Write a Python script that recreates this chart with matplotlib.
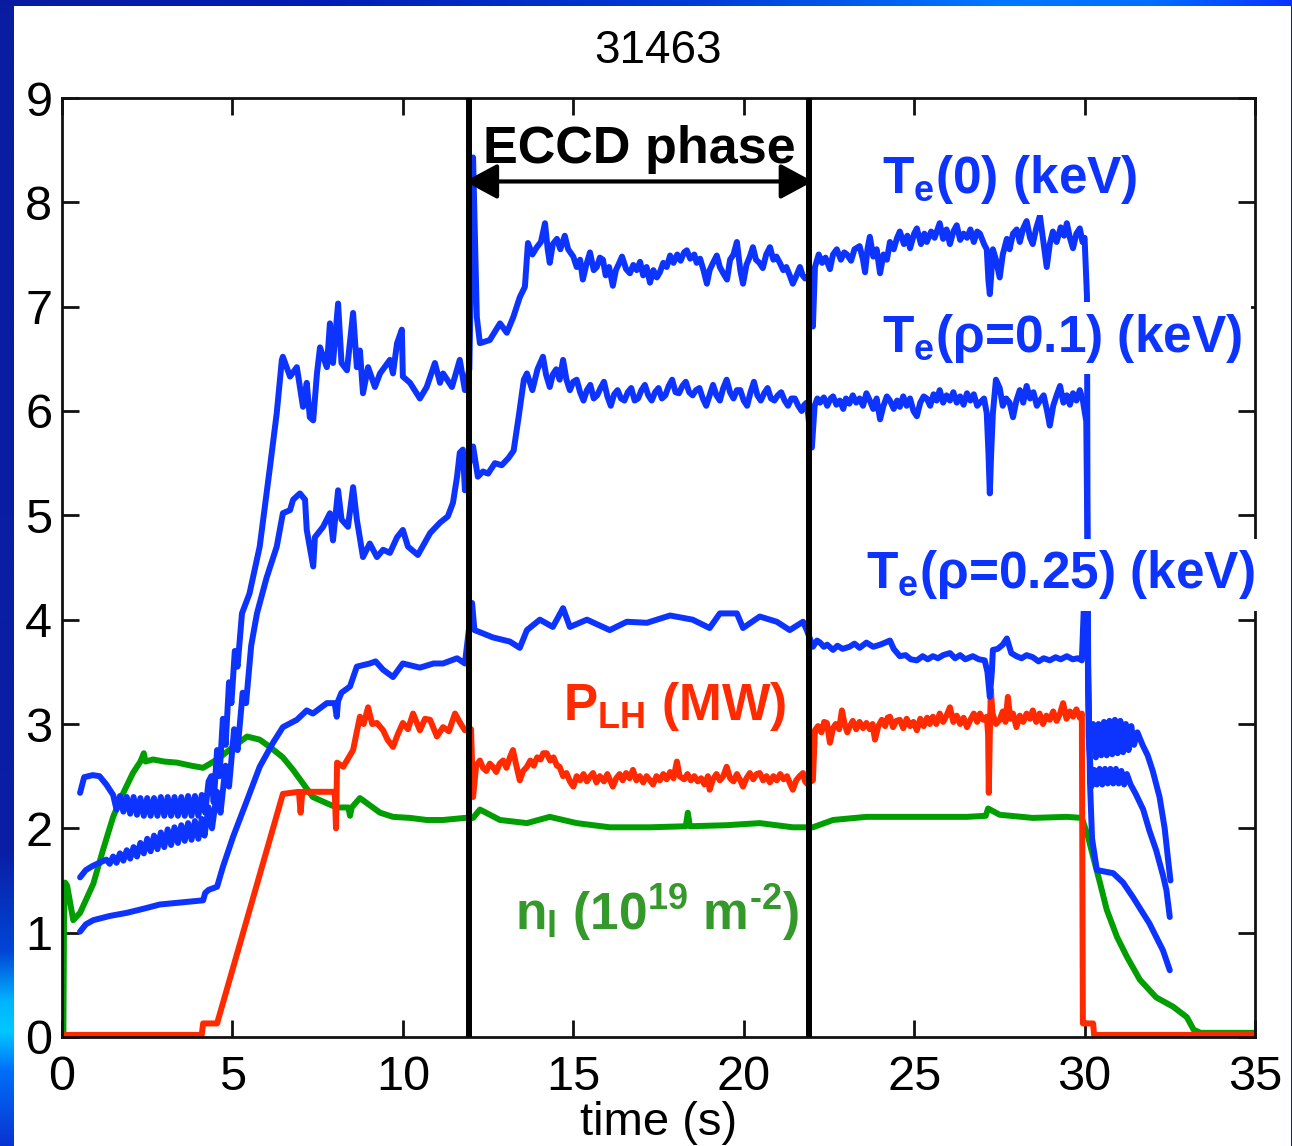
"""
Shot 31463: Te, P_LH and n_l time traces with the ECCD phase marked
"""

import numpy as np
import matplotlib.pyplot as plt

plt.rcParams['font.family'] = ['Liberation Sans', 'DejaVu Sans']
plt.rcParams['mathtext.fontset'] = 'custom'
plt.rcParams['mathtext.rm'] = 'Liberation Sans'
plt.rcParams['mathtext.bf'] = 'Liberation Sans:bold'
plt.rcParams['mathtext.it'] = 'Liberation Sans:italic'
plt.rcParams['mathtext.sf'] = 'Liberation Sans'

# ==================== data (time in s) ====================
shot = '31463'
eccd_start, eccd_end = 11.95, 21.92

te0 = [
    (0.53, 2.34), (0.65, 2.49), (0.9, 2.51), (1.1, 2.50), (1.3, 2.42), (1.5, 2.32),
    (1.6, 2.18), (1.7, 2.31), (1.8, 2.16), (1.9, 2.30), (2.0, 2.14), (2.1, 2.30),
    (2.2, 2.13), (2.3, 2.29), (2.4, 2.12), (2.5, 2.29), (2.6, 2.12), (2.7, 2.29),
    (2.8, 2.12), (2.9, 2.30), (3.0, 2.12), (3.1, 2.30), (3.2, 2.12), (3.3, 2.30),
    (3.4, 2.12), (3.5, 2.30), (3.6, 2.12), (3.7, 2.31), (3.8, 2.12), (3.9, 2.31),
    (4.0, 2.12), (4.1, 2.32), (4.2, 2.15),
    (4.3, 2.45), (4.38, 2.5), (4.45, 2.25), (4.55, 2.75), (4.62, 2.5), (4.72, 3.05),
    (4.8, 2.8), (4.9, 3.4), (4.97, 3.2), (5.07, 3.7), (5.15, 3.55), (5.28, 4.06),
    (5.5, 4.25), (5.8, 4.7), (6.1, 5.46), (6.3, 5.98), (6.45, 6.49),
    (6.48, 6.52), (6.69, 6.33), (6.89, 6.42), (6.98, 6.23), (7.07, 6.04), (7.18, 6.27),
    (7.27, 5.94), (7.37, 5.91), (7.48, 6.36), (7.57, 6.61), (7.66, 6.52), (7.77, 6.42),
    (7.86, 6.84), (7.95, 6.46), (8.1, 7.03), (8.2, 6.46), (8.36, 6.39), (8.54, 6.94),
    (8.65, 6.42), (8.74, 6.58), (8.83, 6.17), (8.98, 6.42), (9.18, 6.23), (9.33, 6.36),
    (9.62, 6.49), (9.71, 6.36), (9.83, 6.65), (9.97, 6.78), (10.0, 6.33), (10.21, 6.27),
    (10.5, 6.12), (10.7, 6.23), (10.94, 6.46), (11.09, 6.27), (11.18, 6.36), (11.44, 6.23),
    (11.67, 6.49), (11.82, 6.2), (11.95, 6.4),
    (12.06, 8.43), (12.17, 6.9), (12.26, 6.65), (12.55, 6.68), (12.85, 6.84), (13.05, 6.75),
    (13.24, 6.9), (13.43, 7.09), (13.58, 7.19), (13.67, 7.61), (13.8, 7.5), (13.93, 7.57),
    (14.05, 7.62), (14.17, 7.8), (14.25, 7.55), (14.31, 7.42), (14.4, 7.6), (14.52, 7.65),
    (14.62, 7.55), (14.75, 7.68), (14.85, 7.55), (15.0, 7.48), (15.1, 7.38), (15.2, 7.45),
    (15.28, 7.26), (15.38, 7.4), (15.49, 7.52), (15.6, 7.35), (15.69, 7.38), (15.78, 7.47),
    (15.87, 7.45), (15.95, 7.3), (16.05, 7.38), (16.16, 7.2), (16.25, 7.35), (16.35, 7.42),
    (16.43, 7.48), (16.55, 7.36), (16.66, 7.32), (16.76, 7.4), (16.86, 7.35), (16.96, 7.43),
    (17.05, 7.3), (17.15, 7.38), (17.25, 7.23), (17.35, 7.35), (17.45, 7.28), (17.54, 7.33),
    (17.64, 7.42), (17.74, 7.38), (17.84, 7.49), (17.94, 7.42), (18.05, 7.5), (18.15, 7.44),
    (18.25, 7.52), (18.33, 7.54), (18.43, 7.46), (18.55, 7.5), (18.62, 7.42), (18.72, 7.46),
    (18.82, 7.35), (18.92, 7.22), (19.0, 7.35), (19.1, 7.42), (19.21, 7.49), (19.3, 7.38),
    (19.4, 7.32), (19.51, 7.26), (19.6, 7.45), (19.7, 7.5), (19.8, 7.62), (19.9, 7.35),
    (19.98, 7.22), (20.08, 7.4), (20.18, 7.48), (20.27, 7.57), (20.36, 7.45), (20.46, 7.42),
    (20.56, 7.37), (20.66, 7.5), (20.77, 7.57), (20.87, 7.45), (20.96, 7.48), (21.06, 7.42),
    (21.16, 7.35), (21.25, 7.38), (21.35, 7.3), (21.44, 7.22), (21.55, 7.3), (21.65, 7.38),
    (21.73, 7.3), (21.8, 7.27), (21.92, 7.3),
    (22.03, 6.81), (22.09, 7.38), (22.2, 7.5), (22.3, 7.42), (22.4, 7.47), (22.53, 7.36),
    (22.62, 7.5), (22.73, 7.55), (22.85, 7.45), (22.95, 7.52), (23.03, 7.5), (23.15, 7.44),
    (23.25, 7.55), (23.4, 7.58), (23.5, 7.45), (23.56, 7.33), (23.63, 7.55), (23.7, 7.67),
    (23.8, 7.48), (23.9, 7.55), (24.0, 7.32), (24.1, 7.5), (24.2, 7.45), (24.29, 7.62),
    (24.4, 7.55), (24.5, 7.66), (24.58, 7.72), (24.7, 7.6), (24.8, 7.68), (24.88, 7.56),
    (25.0, 7.7), (25.08, 7.75), (25.2, 7.6), (25.3, 7.7), (25.37, 7.62), (25.5, 7.72),
    (25.6, 7.66), (25.75, 7.8), (25.85, 7.65), (25.95, 7.74), (26.05, 7.6), (26.15, 7.72),
    (26.25, 7.78), (26.35, 7.64), (26.45, 7.7), (26.55, 7.66), (26.65, 7.74), (26.75, 7.62),
    (26.85, 7.72), (26.93, 7.7), (27.05, 7.6), (27.13, 7.55), (27.18, 7.25), (27.22, 7.12),
    (27.26, 7.3), (27.31, 7.55), (27.4, 7.45), (27.51, 7.28), (27.6, 7.5), (27.72, 7.65),
    (27.8, 7.55), (27.9, 7.7), (28.01, 7.74), (28.1, 7.62), (28.2, 7.75), (28.3, 7.82),
    (28.4, 7.66), (28.48, 7.6), (28.58, 7.75), (28.69, 7.87), (28.78, 7.65), (28.89, 7.38),
    (28.98, 7.6), (29.07, 7.72), (29.18, 7.62), (29.3, 7.76), (29.4, 7.68), (29.48, 7.8),
    (29.57, 7.66), (29.66, 7.56), (29.76, 7.7), (29.86, 7.75), (29.94, 7.62), (30.0, 7.66),
    (30.07, 7.1), (30.1, 3.4), (30.15, 2.75),
    (30.25, 3.0), (30.33, 2.68), (30.41, 3.0), (30.49, 2.7), (30.57, 3.02), (30.65, 2.7),
    (30.73, 3.03), (30.81, 2.71), (30.89, 3.04), (30.97, 2.72), (31.05, 3.03), (31.13, 2.73),
    (31.21, 3.0), (31.29, 2.75), (31.37, 2.98), (31.45, 2.8), (31.55, 2.92), (31.7, 2.8),
    (31.85, 2.7), (32.0, 2.55), (32.2, 2.3), (32.35, 2.0), (32.45, 1.7), (32.52, 1.5),
]

te01 = [
    (0.53, 1.53), (0.7, 1.6), (0.9, 1.64), (1.1, 1.67), (1.3, 1.70),
    (1.4, 1.66), (1.5, 1.73), (1.6, 1.67), (1.7, 1.76), (1.8, 1.69), (1.9, 1.79),
    (2.0, 1.71), (2.1, 1.82), (2.2, 1.73), (2.3, 1.86), (2.4, 1.76), (2.5, 1.90),
    (2.6, 1.78), (2.7, 1.93), (2.8, 1.80), (2.9, 1.96), (3.0, 1.82), (3.1, 1.99),
    (3.2, 1.84), (3.3, 2.01), (3.4, 1.86), (3.5, 2.03), (3.6, 1.88), (3.7, 2.05),
    (3.8, 1.89), (3.9, 2.07), (4.0, 1.90), (4.1, 2.09), (4.18, 1.93),
    (4.3, 2.2), (4.4, 2.0), (4.55, 2.35), (4.65, 2.15), (4.8, 2.6), (4.9, 2.4),
    (5.05, 2.95), (5.15, 2.75), (5.3, 3.3), (5.4, 3.2), (5.55, 3.75), (5.72, 4.06),
    (6.0, 4.4), (6.3, 4.7), (6.48, 5.02),
    (6.69, 5.05), (6.78, 5.15), (6.98, 5.21), (7.13, 5.15), (7.18, 4.86), (7.37, 4.51),
    (7.42, 4.79), (7.66, 4.89), (7.86, 5.02), (7.95, 4.76), (8.1, 5.24), (8.2, 4.96),
    (8.39, 4.89), (8.54, 5.27), (8.65, 4.96), (8.83, 4.6), (9.03, 4.73), (9.24, 4.6),
    (9.42, 4.67), (9.62, 4.64), (9.83, 4.79), (10.0, 4.86), (10.15, 4.7), (10.44, 4.62),
    (10.8, 4.83), (11.09, 4.93), (11.32, 4.99), (11.47, 5.12), (11.59, 5.37), (11.67, 5.6),
    (11.76, 5.63), (11.82, 5.24), (11.95, 5.5),
    (12.06, 5.66), (12.2, 5.37), (12.35, 5.42), (12.5, 5.4), (12.7, 5.5), (12.9, 5.48),
    (13.1, 5.55), (13.25, 5.62), (13.4, 5.95), (13.55, 6.3), (13.64, 6.36), (13.8, 6.2),
    (13.95, 6.4), (14.11, 6.52), (14.2, 6.35), (14.31, 6.23), (14.4, 6.35), (14.5, 6.4),
    (14.6, 6.3), (14.7, 6.49), (14.8, 6.3), (14.9, 6.2), (15.0, 6.28), (15.1, 6.3),
    (15.2, 6.18), (15.3, 6.1), (15.4, 6.2), (15.5, 6.25), (15.6, 6.12), (15.7, 6.15),
    (15.8, 6.22), (15.9, 6.28), (16.0, 6.14), (16.1, 6.05), (16.2, 6.16), (16.3, 6.2),
    (16.4, 6.12), (16.5, 6.1), (16.6, 6.18), (16.7, 6.22), (16.8, 6.1), (16.9, 6.12),
    (17.0, 6.2), (17.1, 6.25), (17.2, 6.15), (17.3, 6.1), (17.4, 6.18), (17.5, 6.22),
    (17.6, 6.12), (17.7, 6.15), (17.8, 6.24), (17.9, 6.3), (18.0, 6.18), (18.1, 6.17),
    (18.2, 6.24), (18.3, 6.28), (18.4, 6.18), (18.5, 6.15), (18.6, 6.2), (18.7, 6.22),
    (18.8, 6.12), (18.9, 6.05), (19.0, 6.15), (19.1, 6.25), (19.2, 6.15), (19.3, 6.1),
    (19.4, 6.22), (19.5, 6.3), (19.6, 6.18), (19.7, 6.12), (19.8, 6.2), (19.9, 6.2),
    (20.0, 6.1), (20.1, 6.05), (20.2, 6.18), (20.3, 6.28), (20.4, 6.15), (20.5, 6.1),
    (20.6, 6.17), (20.7, 6.22), (20.8, 6.12), (20.9, 6.1), (21.0, 6.15), (21.1, 6.18),
    (21.2, 6.1), (21.3, 6.05), (21.4, 6.12), (21.5, 6.12), (21.6, 6.05), (21.7, 6.0),
    (21.78, 6.06), (21.85, 6.08),
    (22.0, 5.65), (22.08, 6.05), (22.16, 6.12), (22.24, 6.08), (22.35, 6.13), (22.45, 6.05),
    (22.55, 6.12), (22.62, 6.14), (22.72, 6.06), (22.82, 6.1), (22.92, 6.02), (23.0, 6.12),
    (23.1, 6.07), (23.2, 6.15), (23.3, 6.08), (23.4, 6.12), (23.5, 6.05), (23.6, 6.17),
    (23.7, 6.1), (23.8, 6.02), (23.9, 6.12), (24.0, 5.92), (24.1, 6.05), (24.2, 6.14),
    (24.29, 6.1), (24.4, 6.02), (24.5, 6.1), (24.58, 6.04), (24.68, 6.14), (24.78, 6.05),
    (24.88, 6.12), (24.98, 6.0), (25.08, 5.95), (25.18, 6.08), (25.28, 6.14), (25.37, 6.12),
    (25.47, 6.05), (25.57, 6.16), (25.66, 6.1), (25.75, 6.2), (25.85, 6.08), (25.95, 6.15),
    (26.05, 6.1), (26.15, 6.18), (26.25, 6.08), (26.35, 6.14), (26.45, 6.06), (26.55, 6.17),
    (26.65, 6.1), (26.75, 6.16), (26.85, 6.05), (26.93, 6.08), (27.05, 6.12), (27.13, 5.98),
    (27.18, 5.6), (27.22, 5.21), (27.26, 5.6), (27.31, 5.98), (27.4, 6.3), (27.51, 6.22),
    (27.6, 6.05), (27.7, 6.12), (27.8, 6.08), (27.9, 5.94), (28.0, 6.1), (28.1, 6.2),
    (28.2, 6.08), (28.3, 6.24), (28.4, 6.12), (28.5, 6.18), (28.6, 6.05), (28.69, 6.1),
    (28.8, 6.15), (28.9, 6.0), (28.98, 5.86), (29.08, 6.05), (29.18, 6.15), (29.28, 6.24),
    (29.38, 6.08), (29.48, 6.15), (29.57, 6.06), (29.66, 6.17), (29.76, 6.1), (29.86, 6.2),
    (29.95, 6.1), (30.05, 5.9), (30.08, 4.86), (30.12, 2.9), (30.2, 2.4),
    (30.28, 2.56), (30.36, 2.42), (30.44, 2.57), (30.52, 2.42), (30.6, 2.57), (30.68, 2.43),
    (30.76, 2.57), (30.84, 2.43), (30.92, 2.57), (31.0, 2.43), (31.08, 2.55), (31.16, 2.42),
    (31.24, 2.52), (31.35, 2.42), (31.5, 2.33), (31.72, 2.18), (31.9, 1.98), (32.1, 1.79),
    (32.3, 1.55), (32.4, 1.41), (32.5, 1.15),
]

te025 = [
    (0.53, 1.01), (0.7, 1.08), (0.92, 1.12), (1.4, 1.16), (1.9, 1.19), (2.4, 1.23),
    (2.87, 1.27), (3.5, 1.29), (4.14, 1.31), (4.2, 1.38), (4.3, 1.41), (4.55, 1.44),
    (4.72, 1.63), (5.02, 1.92), (5.43, 2.27), (5.8, 2.59), (6.19, 2.82), (6.48, 2.97),
    (6.89, 3.04), (7.18, 3.13), (7.36, 3.1), (7.77, 3.2), (8.0, 3.2), (8.06, 3.07),
    (8.1, 3.22), (8.2, 3.3), (8.45, 3.36), (8.65, 3.55), (9.03, 3.58), (9.2, 3.6),
    (9.42, 3.52), (9.71, 3.45), (10.0, 3.58), (10.5, 3.54), (10.9, 3.58), (11.18, 3.58),
    (11.59, 3.63), (11.82, 3.58),
    (12.03, 4.16), (12.1, 3.9), (12.26, 3.88), (12.64, 3.83), (13.14, 3.79), (13.43, 3.73),
    (13.64, 3.9), (14.02, 4.0), (14.4, 3.93), (14.7, 4.11), (14.9, 3.93), (15.4, 4.0),
    (16.07, 3.9), (16.57, 3.98), (17.16, 3.97), (17.84, 4.04), (18.5, 4.0), (19.0, 3.92),
    (19.3, 4.06), (19.8, 4.06), (19.98, 3.92), (20.47, 4.03), (20.97, 3.98), (21.35, 3.9),
    (21.74, 3.98), (21.85, 3.9),
    (22.03, 3.74), (22.15, 3.8), (22.24, 3.78), (22.35, 3.74), (22.45, 3.76), (22.62, 3.71),
    (22.75, 3.75), (22.9, 3.72), (23.1, 3.74), (23.25, 3.77), (23.4, 3.73), (23.6, 3.78),
    (23.8, 3.74), (24.0, 3.76), (24.15, 3.78), (24.29, 3.8), (24.4, 3.72), (24.58, 3.65),
    (24.75, 3.66), (24.9, 3.62), (25.08, 3.61), (25.25, 3.65), (25.4, 3.62), (25.55, 3.65),
    (25.7, 3.63), (25.85, 3.66), (26.05, 3.68), (26.2, 3.63), (26.35, 3.66), (26.5, 3.62),
    (26.72, 3.65), (26.9, 3.62), (27.07, 3.61), (27.15, 3.5), (27.22, 3.26), (27.28, 3.5),
    (27.31, 3.71), (27.45, 3.72), (27.6, 3.76), (27.72, 3.82), (27.85, 3.68), (28.0, 3.65),
    (28.15, 3.63), (28.3, 3.66), (28.48, 3.64), (28.65, 3.6), (28.8, 3.63), (28.98, 3.61),
    (29.15, 3.64), (29.3, 3.62), (29.48, 3.65), (29.65, 3.62), (29.8, 3.63), (29.92, 3.61),
    (30.0, 4.3), (30.06, 4.3), (30.1, 3.6), (30.16, 2.43),
    (30.22, 1.9), (30.36, 1.6), (30.84, 1.57), (31.13, 1.48), (31.42, 1.34), (31.9, 1.09),
    (32.3, 0.83), (32.5, 0.64),
]

n_l = [
    (0.0, 0.0), (0.04, 0.0), (0.06, 1.2), (0.09, 1.48), (0.15, 1.45), (0.33, 1.12),
    (0.53, 1.19), (0.92, 1.47), (1.2, 1.79), (1.5, 2.11), (1.8, 2.34), (2.08, 2.53),
    (2.3, 2.64), (2.4, 2.72), (2.45, 2.64), (2.67, 2.66), (3.0, 2.64), (3.37, 2.63),
    (3.8, 2.6), (4.14, 2.58), (4.55, 2.66), (5.02, 2.78), (5.43, 2.88), (5.8, 2.85),
    (6.1, 2.78), (6.48, 2.68), (6.78, 2.56), (7.07, 2.43), (7.36, 2.3), (7.77, 2.24),
    (8.06, 2.2), (8.4, 2.2), (8.45, 2.12), (8.5, 2.2), (8.74, 2.29), (9.12, 2.2),
    (9.33, 2.15), (9.71, 2.11), (10.21, 2.1), (10.7, 2.08), (11.18, 2.08), (11.82, 2.1),
    (12.06, 2.1), (12.26, 2.18), (12.85, 2.08), (13.64, 2.05), (14.31, 2.11), (15.1, 2.05),
    (16.07, 2.01), (17.25, 2.01), (18.3, 2.02), (18.36, 2.15), (18.42, 2.02), (19.5, 2.03),
    (20.47, 2.05), (21.44, 2.01), (21.85, 2.01),
    (22.03, 2.01), (22.62, 2.08), (23.6, 2.11), (24.58, 2.11), (25.55, 2.11), (26.55, 2.11),
    (27.1, 2.12), (27.17, 2.19), (27.51, 2.13), (28.48, 2.1), (29.48, 2.11), (29.92, 2.1),
    (30.1, 1.92), (30.25, 1.73), (30.45, 1.48), (30.65, 1.22), (30.95, 0.96), (31.24, 0.77),
    (31.62, 0.55), (32.1, 0.38), (32.6, 0.29), (33.0, 0.19), (33.2, 0.07), (33.4, 0.04),
    (34.0, 0.04), (35.0, 0.04),
]

p_lh = [
    (0.0, 0.02), (4.1, 0.02), (4.14, 0.13), (4.55, 0.13), (6.48, 2.33), (6.95, 2.35),
    (7.0, 2.15), (7.05, 2.35), (8.0, 2.35), (8.04, 2.0), (8.07, 2.63), (8.25, 2.59),
    (8.54, 2.75), (8.74, 3.07), (8.85, 3.0), (8.98, 3.16), (9.1, 3.0), (9.24, 3.01),
    (9.42, 2.94), (9.55, 2.85), (9.71, 2.78), (9.85, 2.9), (10.0, 3.01), (10.15, 2.95),
    (10.3, 3.1), (10.5, 2.94), (10.65, 3.05), (10.8, 3.04), (11.0, 2.88), (11.18, 2.97),
    (11.35, 2.93), (11.53, 3.1), (11.7, 3.0), (11.82, 2.94), (12.0, 2.95),
    (12.06, 2.3), (12.15, 2.6), (12.26, 2.65), (12.35, 2.58), (12.45, 2.55), (12.55, 2.62),
    (12.64, 2.59), (12.74, 2.54), (12.84, 2.62), (12.94, 2.65), (13.04, 2.58), (13.14, 2.68),
    (13.23, 2.75), (13.33, 2.6), (13.43, 2.46), (13.53, 2.55), (13.64, 2.59), (13.74, 2.65),
    (13.84, 2.6), (13.94, 2.68), (14.04, 2.66), (14.12, 2.72), (14.22, 2.72), (14.32, 2.65),
    (14.42, 2.68), (14.52, 2.6), (14.6, 2.59), (14.7, 2.5), (14.8, 2.53), (14.9, 2.45),
    (15.0, 2.4), (15.1, 2.5), (15.2, 2.46), (15.3, 2.52), (15.4, 2.45), (15.5, 2.5),
    (15.58, 2.53), (15.68, 2.44), (15.78, 2.5), (15.9, 2.45), (16.0, 2.52), (16.08, 2.46),
    (16.16, 2.4), (16.26, 2.48), (16.36, 2.52), (16.45, 2.46), (16.55, 2.53), (16.65, 2.48),
    (16.75, 2.56), (16.85, 2.46), (16.95, 2.5), (17.05, 2.44), (17.15, 2.5), (17.25, 2.46),
    (17.34, 2.42), (17.44, 2.5), (17.54, 2.46), (17.64, 2.52), (17.74, 2.47), (17.84, 2.54),
    (17.94, 2.48), (18.04, 2.64), (18.12, 2.5), (18.25, 2.47), (18.35, 2.52), (18.45, 2.46),
    (18.55, 2.5), (18.65, 2.45), (18.75, 2.48), (18.85, 2.42), (18.95, 2.5), (19.0, 2.37),
    (19.1, 2.47), (19.2, 2.52), (19.3, 2.46), (19.4, 2.5), (19.5, 2.59), (19.6, 2.48),
    (19.7, 2.45), (19.8, 2.52), (19.9, 2.46), (19.98, 2.4), (20.08, 2.48), (20.18, 2.53),
    (20.28, 2.47), (20.38, 2.52), (20.47, 2.53), (20.57, 2.46), (20.67, 2.5), (20.77, 2.44),
    (20.87, 2.5), (20.97, 2.46), (21.07, 2.52), (21.17, 2.47), (21.27, 2.5), (21.37, 2.42),
    (21.44, 2.37), (21.54, 2.46), (21.64, 2.5), (21.74, 2.53), (21.8, 2.45), (21.85, 2.43),
    (22.03, 2.46), (22.09, 2.94), (22.18, 2.98), (22.28, 2.92), (22.36, 3.02), (22.44, 3.01),
    (22.53, 2.82), (22.62, 2.96), (22.7, 3.0), (22.8, 2.95), (22.88, 3.13), (22.96, 3.0),
    (23.04, 2.92), (23.1, 2.97), (23.2, 3.03), (23.3, 2.95), (23.4, 3.02), (23.5, 2.96),
    (23.6, 3.01), (23.7, 2.95), (23.78, 3.0), (23.85, 2.85), (23.95, 2.98), (24.05, 3.04),
    (24.15, 2.98), (24.22, 3.06), (24.29, 3.07), (24.38, 2.97), (24.48, 3.03), (24.58, 3.04),
    (24.68, 2.96), (24.78, 3.05), (24.88, 2.98), (24.98, 3.02), (25.08, 2.94), (25.18, 3.05),
    (25.28, 2.98), (25.38, 3.06), (25.46, 3.0), (25.55, 3.07), (25.65, 3.0), (25.75, 3.1),
    (25.85, 3.02), (25.95, 3.08), (26.05, 3.16), (26.15, 3.02), (26.25, 3.08), (26.35, 3.0),
    (26.45, 3.06), (26.55, 2.97), (26.65, 3.04), (26.75, 3.1), (26.85, 3.02), (26.93, 3.1),
    (27.03, 3.04), (27.13, 3.07), (27.17, 2.9), (27.19, 2.34), (27.22, 2.9), (27.25, 3.33),
    (27.3, 3.1), (27.4, 3.0), (27.51, 3.04), (27.6, 3.12), (27.68, 3.02), (27.75, 3.26),
    (27.82, 3.05), (27.9, 3.1), (28.0, 2.97), (28.1, 3.08), (28.2, 3.02), (28.3, 3.1),
    (28.4, 3.05), (28.48, 3.13), (28.58, 3.02), (28.68, 3.1), (28.78, 3.0), (28.88, 3.08),
    (28.98, 3.04), (29.08, 3.12), (29.18, 3.03), (29.28, 3.1), (29.37, 3.2), (29.47, 3.05),
    (29.57, 3.12), (29.66, 3.07), (29.76, 3.14), (29.86, 3.06), (29.92, 3.1),
    (29.95, 0.13), (30.25, 0.13), (30.28, 0.02), (35.0, 0.02),
]

BLUE = '#0d33ff'
RED = '#ff2a00'
GREEN = '#009e00'
GREEN_TXT = '#35982a'

# ==================== figure + slide background ====================
W, H = 1292, 1146
fig = plt.figure(figsize=(W / 100, H / 100), dpi=100, facecolor='#0a1e9e')

# top strip: navy on the left, azure towards the right
top = fig.add_axes([0, (H - 6) / H, 1, 6 / H], zorder=0)
stops_x = [0, 320, 700, 1000, 1150, 1292]
stops_c = np.array([[10, 28, 160], [0, 30, 180], [0, 60, 215], [0, 120, 255],
                    [0, 110, 255], [10, 50, 255]]) / 255
xs = np.arange(W)
grad = np.stack([np.interp(xs, stops_x, stops_c[:, k]) for k in range(3)], axis=-1)
top.imshow(grad[None, :, :], aspect='auto', extent=(0, 1, 0, 1))
top.axis('off')

# left strip: navy with a cyan glow near the bottom
left = fig.add_axes([0, 0, 14 / W, (H - 6) / H], zorder=0)
stops_y = [0, 850, 950, 1000, 1030, 1070, 1146]
stops_v = np.array([[10, 28, 160], [10, 30, 165], [0, 70, 215], [0, 180, 255],
                    [0, 200, 255], [0, 110, 250], [10, 50, 210]]) / 255
ys = np.arange(H)
vgrad = np.stack([np.interp(ys, stops_y, stops_v[:, k]) for k in range(3)], axis=-1)
left.imshow(vgrad[:, None, :], aspect='auto', extent=(0, 1, 0, 1))
left.axis('off')

# white slide area
page = fig.add_axes([14 / W, 0, (1291 - 14) / W, (H - 6) / H], zorder=0)
page.set_facecolor('white')
page.set_xticks([])
page.set_yticks([])
for sp in page.spines.values():
    sp.set_visible(False)

# ==================== main axes ====================
ax = fig.add_axes([62 / W, 109 / H, (1255 - 62) / W, (1037 - 98) / H], zorder=2)
ax.set_facecolor('none')


def draw(trace, color, z):
    t, v = zip(*trace)
    ax.plot(t, v, color=color, lw=4.3, solid_joinstyle='round',
            solid_capstyle='round', zorder=z)


draw(n_l, GREEN, 2.0)
draw(p_lh, RED, 2.1)
draw(te025, BLUE, 2.2)
draw(te01, BLUE, 2.3)
draw(te0, BLUE, 2.4)

for tx in (eccd_start, eccd_end):
    ax.axvline(tx, color='black', lw=4.3, zorder=4)

ax.annotate('', xy=(11.82, 8.2), xytext=(22.03, 8.2),
            arrowprops=dict(arrowstyle='<|-|>,head_length=0.5,head_width=0.27',
                            lw=3, color='black', mutation_scale=40,
                            shrinkA=0, shrinkB=0), zorder=5)
ax.text(12.35, 8.38, 'ECCD phase', fontsize=37.5, fontweight='bold',
        ha='left', va='baseline', zorder=5)

lab = dict(fontsize=37, fontweight='bold', ha='left', va='baseline',
           clip_on=False, zorder=6)
box = dict(boxstyle='square,pad=0.18', facecolor='white', edgecolor='none')
ax.text(24.05, 8.09, r'T$_\mathbf{e}$(0) (keV)', color=BLUE, bbox=box, **lab)
ax.text(24.05, 6.57, r'T$_\mathbf{e}$(ρ=0.1) (keV)', color=BLUE, bbox=box, **lab)
ax.text(23.58, 4.30, r'T$_\mathbf{e}$(ρ=0.25) (keV)', color=BLUE, bbox=box, **lab)
ax.text(14.70, 3.04, r'P$_\mathbf{LH}$ (MW)', color=RED, **lab)
ax.text(13.29, 1.03, r'n$_\mathbf{l}$ (10$^\mathbf{19}$ m$^\mathbf{‐2}$)',
        color=GREEN_TXT, **lab)

ax.set_xlim(0, 35)
ax.set_ylim(0, 9)
ax.set_xticks(range(0, 36, 5))
ax.set_yticks(range(0, 10))
ax.tick_params(direction='in', length=12, width=2, labelsize=35,
               top=True, right=True, color='#111111')
ax.tick_params(axis='x', pad=13)
ax.tick_params(axis='y', pad=7)
for sp in ax.spines.values():
    sp.set_linewidth(2)
    sp.set_color('#111111')
    sp.set_zorder(3)

ax.set_xlabel('time (s)', fontsize=34, labelpad=1)
ax.set_title(shot, fontsize=33, pad=25)

fig.savefig('out.png', dpi=100, facecolor=fig.get_facecolor())
